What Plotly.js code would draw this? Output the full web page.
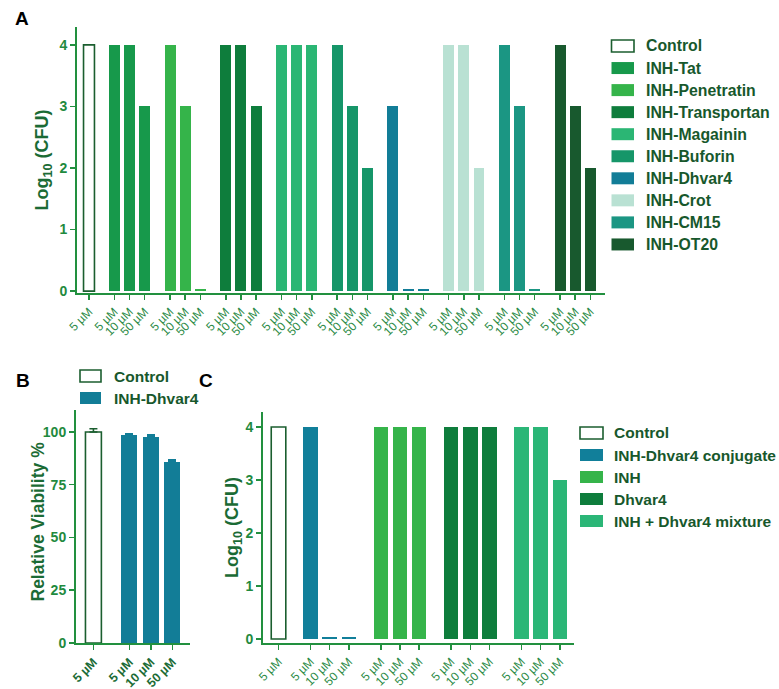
<!DOCTYPE html>
<html>
<head>
<meta charset="utf-8">
<script src="https://cdn.plot.ly/plotly-3.0.1.min.js"></script>
<style>html,body{margin:0;padding:0;background:#fff;}#chart{width:779px;height:689px;}</style>
</head>
<body>
<div id="chart"></div>
<script>
// ---------- Panel A data ----------
const aGroups = ['Control','INH-Tat','INH-Penetratin','INH-Transportan','INH-Magainin','INH-Buforin','INH-Dhvar4','INH-Crot','INH-CM15','INH-OT20'];
const aColors = ['#ffffff','#17994b','#35b44a','#0e7d3c','#2bb674','#169669','#127d97','#b9e1d3','#1b9683','#18592e'];
const aDoses = [['5 µM'],['5 µM','10 µM','50 µM'],['5 µM','10 µM','50 µM'],['5 µM','10 µM','50 µM'],['5 µM','10 µM','50 µM'],['5 µM','10 µM','50 µM'],['5 µM','10 µM','50 µM'],['5 µM','10 µM','50 µM'],['5 µM','10 µM','50 µM'],['5 µM','10 µM','50 µM']];
const aValues = [[4],[4,4,3],[4,3,0.04],[4,4,3],[4,4,4],[4,3,2],[3,0.04,0.04],[4,4,2],[4,3,0.04],[4,3,2]];
const aTicks = [0,1,2,3,4];

// ---------- Panel B data ----------
const bGroups = ['Control','INH-Dhvar4'];
const bColors = ['#ffffff','#127d97'];
const bDoses = [['5 µM'],['5 µM','10 µM','50 µM']];
const bValues = [[100],[98.5,97.5,86]];
const bErrors = [[1.5],[0.5,1.1,0.8]];
const bTicks = [0,25,50,75,100];

// ---------- Panel C data ----------
const cGroups = ['Control','INH-Dhvar4 conjugate','INH','Dhvar4','INH + Dhvar4 mixture'];
const cColors = ['#ffffff','#117f9a','#35b44a','#0e7d3c','#2bb677'];
const cDoses = [['5 µM'],['5 µM','10 µM','50 µM'],['5 µM','10 µM','50 µM'],['5 µM','10 µM','50 µM'],['5 µM','10 µM','50 µM']];
const cValues = [[4],[4,0.04,0.04],[4,4,4],[4,4,4],[4,4,3]];
const cTicks = [0,1,2,3,4];

// ---------- styling ----------
const W = 779, H = 689;
const FONT = 'Liberation Sans, Arial, Helvetica, sans-serif';
const AXIS = '#22903f';
const OUTLINE = '#1b5e2f';
const TITLE_C = '#1b6b35';
const TICKNUM_C = '#1f8a3e';
const XTICK_C = '#2b8a45';
const LEG_C = '#17582c';
const GROUP_GAP = 1.67;

function layoutPositions(doses){
  let p = 0; const out = [];
  doses.forEach((g, gi) => {
    const arr = [];
    g.forEach((d, di) => {
      if (gi === 0 && di === 0) p = 0;
      else if (di === 0) p += GROUP_GAP;
      else p += 1;
      arr.push(p);
    });
    out.push(arr);
  });
  return out;
}
const px = v => v / W;
const py = v => 1 - v / H;

const traces = [];
function addPanel(groups, colors, doses, values, errors, xa, ya, width){
  const pos = layoutPositions(doses);
  groups.forEach((name, i) => {
    const isCtrl = i === 0;
    const t = {
      type: 'bar', name: name, x: pos[i], y: values[i],
      xaxis: xa, yaxis: ya, width: width, showlegend: false,
      marker: {color: colors[i], line: {color: isCtrl ? OUTLINE : colors[i], width: isCtrl ? 1.6 : 0}},
      hoverinfo: 'x+y+name'
    };
    if (errors) {
      t.error_y = {type: 'data', array: errors[i], arrayminus: errors[i].map(() => 0), color: isCtrl ? OUTLINE : colors[i], thickness: 1.6, width: 4};
    }
    traces.push(t);
  });
  return {vals: pos.flat(), text: doses.flat()};
}

const ta = addPanel(aGroups, aColors, aDoses, aValues, null, 'x', 'y', 0.72);
const tb = addPanel(bGroups, bColors, bDoses, bValues, bErrors, 'x2', 'y2', 0.74);
const tc = addPanel(cGroups, cColors, cDoses, cValues, null, 'x3', 'y3', 0.76);

function xAxis(dom, range, ticks, y, bold, size){
  return {domain: dom, range: range, anchor: y, tickmode: 'array', tickvals: ticks.vals, ticktext: ticks.text,
    tickangle: -45, showline: true, linecolor: AXIS, linewidth: 2, ticks: 'outside', ticklen: 5, tickwidth: 1.5, tickcolor: AXIS,
    tickfont: {family: FONT, size: size, color: bold ? TITLE_C : XTICK_C, weight: bold ? 700 : 400},
    showgrid: false, zeroline: false, automargin: false, fixedrange: true};
}
function yAxis(dom, range, tickvals, x, title, standoff, tsize){
  return {domain: dom, range: range, anchor: x, tickmode: 'array', tickvals: tickvals,
    showline: true, linecolor: AXIS, linewidth: 2, ticks: 'outside', ticklen: 5, tickwidth: 1.5, tickcolor: AXIS,
    tickfont: {family: FONT, size: 14, color: TICKNUM_C, weight: 700},
    title: {text: title, font: {family: FONT, size: tsize, color: TITLE_C, weight: 700}, standoff: standoff},
    showgrid: false, zeroline: false, automargin: false, fixedrange: true};
}

const shapes = [], annotations = [];
function addLegend(groups, colors, x0, x1, xt, y0, step, fsize, h){
  groups.forEach((name, i) => {
    const yc = y0 + i * step;
    shapes.push({type: 'rect', xref: 'paper', yref: 'paper', x0: px(x0), x1: px(x1), y0: py(yc + h/2), y1: py(yc - h/2),
      fillcolor: colors[i], line: {color: i === 0 ? OUTLINE : colors[i], width: i === 0 ? 1.6 : 0}});
    annotations.push({xref: 'paper', yref: 'paper', x: px(xt), y: py(yc), xanchor: 'left', yanchor: 'middle', showarrow: false,
      text: name, font: {family: FONT, size: fsize, color: LEG_C, weight: 700}});
  });
}
addLegend(aGroups, aColors, 611.5, 634, 644, 46, 22.05, 15.8, 12);
addLegend(bGroups, bColors, 80, 101, 112, 376, 22, 15.5, 12);
addLegend(cGroups, cColors, 580, 603, 612, 433, 22, 15.5, 12);

[['A', 13, 18], ['B', 14, 380], ['C', 197, 380]].forEach(([t, x, y]) => {
  annotations.push({xref: 'paper', yref: 'paper', x: px(x), y: py(y), xanchor: 'left', yanchor: 'middle', showarrow: false,
    text: t, font: {family: FONT, size: 19, color: '#000', weight: 700}});
});

// Panel B y-axis title (placed close to the tick labels, as in the reference)
annotations.push({xref: 'paper', yref: 'paper', x: px(37.5), y: py(522), xanchor: 'center', yanchor: 'middle', textangle: -90,
  showarrow: false, text: 'Relative Viability %', font: {family: FONT, size: 17.5, color: TITLE_C, weight: 700}});

const layout = {
  width: W, height: H, margin: {l: 0, r: 0, t: 0, b: 0}, paper_bgcolor: '#fff', plot_bgcolor: 'rgba(0,0,0,0)',
  showlegend: false, barmode: 'overlay', bargap: 0,
  xaxis: xAxis([px(77), px(605)], [-0.79, 33.99], ta, 'y', false, 12),
  yaxis: yAxis([py(293), py(27)], [-0.03, 4.29], aTicks, 'x', 'Log<sub>10</sub> (CFU)', 6, 18),
  xaxis2: xAxis([px(76), px(190)], [-0.81, 4.49], tb, 'y2', true, 12.5),
  yaxis2: yAxis([py(643), py(410)], [0, 110.4], bTicks, 'x2', '', 0, 17.5),
  xaxis3: xAxis([px(263), px(574)], [-0.81, 15.42], tc, 'y3', false, 12),
  yaxis3: yAxis([py(643), py(412)], [-0.075, 4.283], cTicks, 'x3', 'Log<sub>10</sub> (CFU)', 2, 18),
  shapes: shapes, annotations: annotations
};

Plotly.newPlot('chart', traces, layout, {displayModeBar: false, staticPlot: true});
</script>
</body>
</html>
